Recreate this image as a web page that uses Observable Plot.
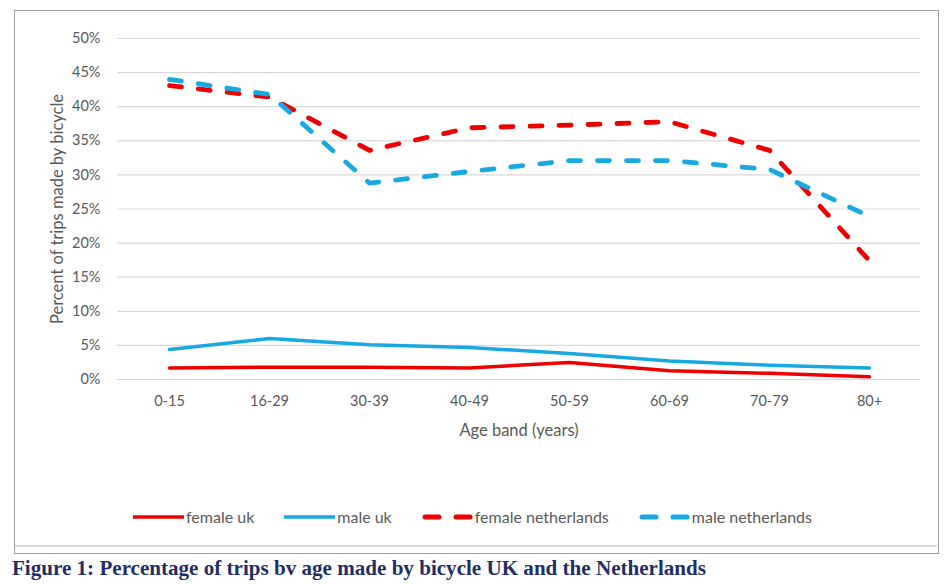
<!DOCTYPE html>
<html><head><meta charset="utf-8">
<script src="https://cdn.jsdelivr.net/npm/d3@7"></script>
<script src="https://cdn.jsdelivr.net/npm/@observablehq/plot@0.6"></script>
<style>
html,body{margin:0;padding:0;background:#fff}
body{width:952px;height:584px;position:relative;overflow:hidden;font-family:Lato,"Open Sans",sans-serif}
#chart{position:absolute;left:0;top:0}
#box{position:absolute;left:14px;top:10px;width:925px;height:544px;border:1.5px solid #9e9e9e;box-sizing:border-box;pointer-events:none}
#inner{position:absolute;left:15px;top:545px;width:922px;height:0;border-top:2px solid #dcdcdc}
#legend{position:absolute;left:10px;top:507px;width:925px;display:flex;justify-content:center;align-items:center;gap:30px;font-size:16px;color:#595959}
#legend .item{display:flex;align-items:center;gap:2px;white-space:nowrap}
#caption{position:absolute;left:12px;top:555px;font-family:"Liberation Serif","Times New Roman",serif;font-weight:bold;font-size:22px;color:#1f2f66;white-space:nowrap;transform-origin:0 0}
</style>
</head><body>
<div id="chart"></div>
<div id="box"></div>
<div id="inner"></div>
<div id="legend"></div>
<div id="caption">Figure 1: Percentage of trips bv age made by bicycle UK and the Netherlands</div>
<script>
const ageBands = ["0-15","16-29","30-39","40-49","50-59","60-69","70-79","80+"];
const femaleUk = [1.7,1.8,1.8,1.7,2.5,1.3,0.9,0.4];
const maleUk = [4.4,6.0,5.1,4.7,3.8,2.7,2.1,1.7];
const femaleNl = [43.1,41.4,33.6,36.9,37.3,37.8,33.6,17.4];
const maleNl = [44.0,41.8,28.8,30.5,32.1,32.1,30.8,23.9];
const seriesNames = ["female uk","male uk","female netherlands","male netherlands"];
const yTicks = [0,5,10,15,20,25,30,35,40,45,50];
const xTitle = "Age band (years)";
const yTitle = "Percent of trips made by bicycle";

const RED = "#ec0000", BLUE = "#18a9e1";
const styles = [
  {stroke: RED, width: 3.5, dash: null},
  {stroke: BLUE, width: 3.5, dash: null},
  {stroke: RED, width: 4.8, dash: "12,17"},
  {stroke: BLUE, width: 4.8, dash: "12,17"}
];
const seriesValues = [femaleUk, maleUk, femaleNl, maleNl];
const rows = seriesNames.map((s, i) => ageBands.map((a, j) => ({series: s, age: a, value: seriesValues[i][j]})));

const lineMarks = rows.map((r, i) => Plot.line(r, {
  x: "age", y: "value", stroke: styles[i].stroke, strokeWidth: styles[i].width,
  strokeDasharray: styles[i].dash, strokeLinecap: "round", strokeLinejoin: "round",
  curve: "linear"
}));

const chart = Plot.plot({
  width: 952, height: 490,
  marginLeft: 117, marginRight: 32, marginTop: 38, marginBottom: 111,
  style: {fontFamily: "Lato, 'Open Sans', sans-serif", fontSize: "14.5px", color: "#595959", background: "transparent"},
  x: {type: "point", domain: ageBands, padding: 0.5},
  y: {domain: [0, 50]},
  marks: [
    Plot.ruleY(yTicks, {stroke: "#d9d9d9", strokeWidth: 1.2}),
    Plot.axisY({ticks: yTicks, tickSize: 0, tickPadding: 17, tickFormat: d => d + "%", label: null, fill: "#595959"}),
    Plot.axisX({tickSize: 0, tickPadding: 16, label: null, fill: "#595959"}),
    Plot.text([xTitle], {frameAnchor: "bottom", dy: 51, text: d => d, fontSize: 16.5, fill: "#595959", lineAnchor: "middle"}),
    Plot.text([yTitle], {frameAnchor: "left", dx: -60, text: d => d, fontSize: 16.5, fill: "#595959", rotate: -90, textAnchor: "middle", lineAnchor: "middle"}),
    ...lineMarks
  ]
});
document.getElementById("chart").appendChild(chart);

const legend = document.getElementById("legend");
seriesNames.forEach((name, i) => {
  const st = styles[i];
  const item = document.createElement("div");
  item.className = "item";
  const sample = st.dash
    ? `<svg width="51" height="10"><line x1="3" y1="5" x2="17" y2="5" stroke="${st.stroke}" stroke-width="5" stroke-linecap="round"/><line x1="34" y1="5" x2="48" y2="5" stroke="${st.stroke}" stroke-width="5" stroke-linecap="round"/></svg>`
    : `<svg width="51" height="10"><line x1="0" y1="5" x2="51" y2="5" stroke="${st.stroke}" stroke-width="3.5"/></svg>`;
  item.innerHTML = sample + `<span>${name}</span>`;
  legend.appendChild(item);
});

const cap = document.getElementById("caption");
const w = cap.getBoundingClientRect().width;
cap.style.transform = `scaleX(${694 / w})`;
</script>
</body></html>
